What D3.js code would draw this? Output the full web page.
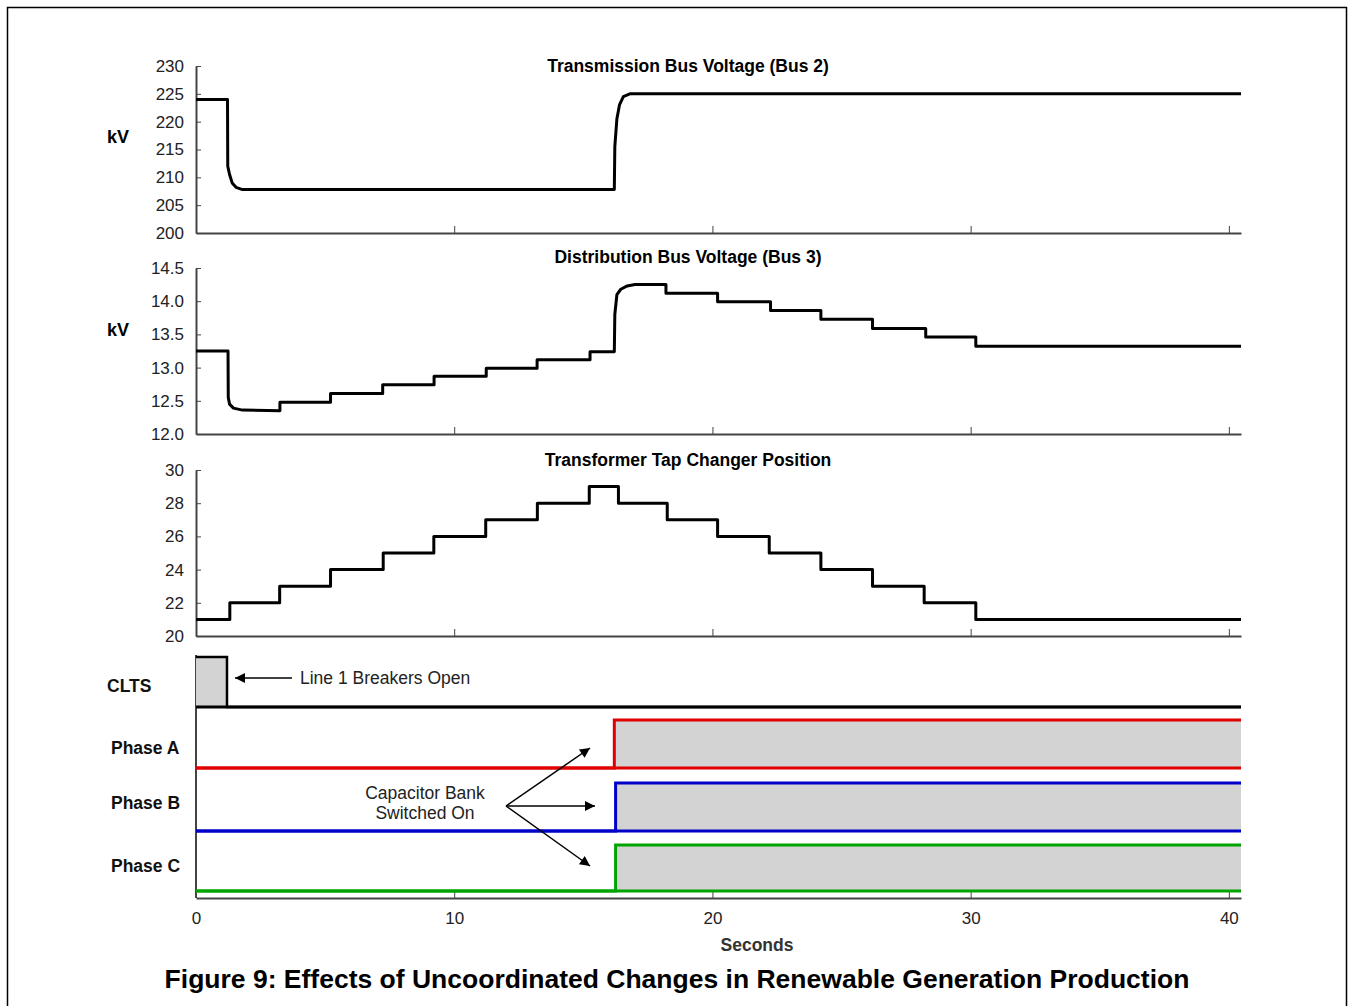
<!DOCTYPE html>
<html>
<head>
<meta charset="utf-8">
<script src="https://cdn.jsdelivr.net/npm/d3@7"></script>
<style>
  body { margin: 0; background: #fff; }
  svg { display: block; font-family: "Liberation Sans", Arial, sans-serif; }
  .tick text { font-size: 17px; fill: #222; }
  .axis path, .axis line { stroke: #444; }
</style>
</head>
<body>
<script>
// Panel 1: transmission bus voltage (kV)
var transT  = [0, 1.22, 1.23, 1.3, 1.4, 1.55, 1.8, 16.2, 16.22, 16.3, 16.4, 16.55, 16.8, 40.47];
var transKV = [224, 224, 212, 210.5, 209, 208.2, 207.8, 207.8, 215.5, 220.5, 223, 224.5, 225, 225];

// Panel 2: distribution bus voltage (kV)
var distT  = [0, 1.24, 1.25, 1.3, 1.45, 1.8, 3.25, 3.25, 5.21, 5.21, 7.23, 7.23, 9.22, 9.22,
              11.24, 11.24, 13.21, 13.21, 15.26, 15.26, 16.2, 16.22, 16.3, 16.45, 16.7, 17.0,
              18.2, 18.2, 20.2, 20.2, 22.25, 22.25, 24.2, 24.2, 26.2, 26.2, 28.26, 28.26, 30.2, 30.2, 40.47];
var distKV = [13.25, 13.25, 12.55, 12.45, 12.39, 12.36, 12.35, 12.48, 12.48, 12.61, 12.61, 12.74, 12.74, 12.87,
              12.87, 12.99, 12.99, 13.12, 13.12, 13.24, 13.24, 13.8, 14.1, 14.18, 14.23, 14.25,
              14.25, 14.12, 14.12, 13.99, 13.99, 13.86, 13.86, 13.73, 13.73, 13.59, 13.59, 13.46, 13.46, 13.32, 13.32];

// Panel 3: tap changer position (step after each time)
var tapT   = [0, 1.31, 3.24, 5.21, 7.25, 9.21, 11.22, 13.22, 15.23, 16.36, 18.25, 20.2, 22.2, 24.2, 26.2, 28.2, 30.2, 40.47];
var tapPos = [21, 22, 23, 24, 25, 26, 27, 28, 29, 28, 27, 26, 25, 24, 23, 22, 21, 21];

// Panel 4: digital signals
var cltsT  = [0, 1.2, 40.47];
var cltsOn = [1, 0, 0];
var phaseNames   = ["Phase A", "Phase B", "Phase C"];
var phaseColors  = ["#e00000", "#0000c8", "#00a400"];
var phaseSwitchT = [16.2, 16.25, 16.25];

var ticks1 = [200, 205, 210, 215, 220, 225, 230];
var ticks2 = [12.0, 12.5, 13.0, 13.5, 14.0, 14.5];
var ticks3 = [20, 22, 24, 26, 28, 30];
var xTicks = [0, 10, 20, 30, 40];
var tEnd = 40.47;

var width = 1348, height = 1006;
var svg = d3.select("body").append("svg")
  .attr("width", width)
  .attr("height", height);

// outer frame
svg.append("path")
  .attr("d", "M7.5,1010 V7.5 H1346.5 V1010")
  .attr("fill", "none")
  .attr("stroke", "#000")
  .attr("stroke-width", 1.5);

var x = d3.scaleLinear().domain([0, tEnd]).range([196, 1241]);

function panel(yDomain, yRange, ticks, fmt, title, titleY, unitY) {
  var y = d3.scaleLinear().domain(yDomain).range(yRange);
  svg.append("g")
    .attr("class", "axis")
    .attr("transform", "translate(196,0)")
    .call(d3.axisLeft(y).tickValues(ticks).tickFormat(fmt).tickSizeInner(-5).tickSizeOuter(0).tickPadding(12))
    .call(function(g) { g.select(".domain").attr("stroke-width", 2); });
  svg.append("g")
    .attr("class", "axis")
    .attr("transform", "translate(0," + yRange[0] + ")")
    .call(d3.axisBottom(x).tickValues(xTicks.slice(1)).tickFormat("").tickSizeInner(-7).tickSizeOuter(0))
    .call(function(g) { g.select(".domain").attr("stroke-width", 2); });
  svg.append("text")
    .attr("x", 688).attr("y", titleY)
    .attr("text-anchor", "middle")
    .attr("font-size", "17.5px").attr("font-weight", "bold")
    .text(title);
  if (unitY) {
    svg.append("text")
      .attr("x", 107).attr("y", unitY)
      .attr("font-size", "18px").attr("font-weight", "bold")
      .text("kV");
  }
  return y;
}

var y1 = panel([200, 230], [233, 66], ticks1, d3.format("d"), "Transmission Bus Voltage (Bus 2)", 72, 143);
var y2 = panel([12, 14.5], [434, 268], ticks2, d3.format(".1f"), "Distribution Bus Voltage (Bus 3)", 263, 336);
var y3 = panel([20, 30], [636, 470], ticks3, d3.format("d"), "Transformer Tap Changer Position", 466, null);

function drawLine(ts, vs, y, curve) {
  var line = d3.line()
    .x(function(d) { return x(d[0]); })
    .y(function(d) { return y(d[1]); })
    .curve(curve);
  svg.append("path")
    .datum(d3.zip(ts, vs))
    .attr("d", line)
    .attr("fill", "none")
    .attr("stroke", "#000")
    .attr("stroke-width", 3)
    .attr("stroke-linejoin", "round");
}
drawLine(transT, transKV, y1, d3.curveLinear);
drawLine(distT, distKV, y2, d3.curveLinear);
drawLine(tapT, tapPos, y3, d3.curveStepAfter);

// digital panel
var bandLow  = [707, 768, 831, 891];
var bandHigh = [657, 720, 783, 845];
var labelY   = [692, 754, 809, 872];

// left axis and bottom axis
svg.append("line")
  .attr("x1", 196).attr("x2", 196).attr("y1", 655).attr("y2", 898)
  .attr("stroke", "#444").attr("stroke-width", 2);
svg.append("g")
  .attr("class", "axis")
  .attr("transform", "translate(0,898)")
  .call(d3.axisBottom(x).tickValues(xTicks).tickFormat(d3.format("d")).tickSizeInner(-7).tickSizeOuter(0).tickPadding(14))
  .call(function(g) {
    g.select(".domain").attr("stroke-width", 2).attr("stroke", "#666");
    g.selectAll(".tick text").attr("font-size", "16px");
  });

// CLTS
var yc = d3.scaleLinear().domain([0, 1]).range([bandLow[0], bandHigh[0]]);
var cltsData = d3.zip(cltsT, cltsOn);
svg.append("path")
  .datum(cltsData)
  .attr("d", d3.area().x(function(d) { return x(d[0]); }).y0(yc(0)).y1(function(d) { return yc(d[1]); }).curve(d3.curveStepAfter))
  .attr("fill", "#d3d3d3");
svg.append("path")
  .datum(cltsData)
  .attr("d", d3.line().x(function(d) { return x(d[0]); }).y(function(d) { return yc(d[1]); }).curve(d3.curveStepAfter))
  .attr("fill", "none").attr("stroke", "#000").attr("stroke-width", 2.5);
svg.append("line")
  .attr("x1", x(0)).attr("x2", x(tEnd)).attr("y1", yc(0)).attr("y2", yc(0))
  .attr("stroke", "#000").attr("stroke-width", 3);

// phases
phaseNames.forEach(function(name, i) {
  var yp = d3.scaleLinear().domain([0, 1]).range([bandLow[i + 1], bandHigh[i + 1]]);
  var data = [[0, 0], [phaseSwitchT[i], 1], [tEnd, 1]];
  svg.append("path")
    .datum(data.slice(1))
    .attr("d", d3.area().x(function(d) { return x(d[0]); }).y0(yp(0)).y1(function(d) { return yp(d[1]); }))
    .attr("fill", "#d3d3d3");
  svg.append("line")
    .attr("x1", x(0)).attr("x2", x(tEnd)).attr("y1", yp(0)).attr("y2", yp(0))
    .attr("stroke", phaseColors[i]).attr("stroke-width", 3);
  svg.append("path")
    .datum(data)
    .attr("d", d3.line().x(function(d) { return x(d[0]); }).y(function(d) { return yp(d[1]); }).curve(d3.curveStepAfter))
    .attr("fill", "none").attr("stroke", phaseColors[i]).attr("stroke-width", 3);
  svg.append("text")
    .attr("x", 111).attr("y", labelY[i + 1])
    .attr("font-size", "17.5px").attr("font-weight", "bold").attr("fill", "#111")
    .text(name);
});

svg.append("text")
  .attr("x", 107).attr("y", labelY[0])
  .attr("font-size", "17.5px").attr("font-weight", "bold").attr("fill", "#111")
  .text("CLTS");

// annotations
var defs = svg.append("defs");
defs.append("marker")
  .attr("id", "arrow")
  .attr("viewBox", "0 0 10 10")
  .attr("refX", 10).attr("refY", 5)
  .attr("markerWidth", 12).attr("markerHeight", 10)
  .attr("markerUnits", "userSpaceOnUse")
  .attr("orient", "auto")
  .append("path").attr("d", "M0,0 L10,5 L0,10 Z").attr("fill", "#000");

svg.append("line")
  .attr("x1", 292).attr("y1", 678).attr("x2", 235).attr("y2", 678)
  .attr("stroke", "#000").attr("stroke-width", 1.5).attr("marker-end", "url(#arrow)");
svg.append("text")
  .attr("x", 300).attr("y", 684)
  .attr("font-size", "17.5px").attr("fill", "#222")
  .text("Line 1 Breakers Open");

svg.append("text")
  .attr("x", 425).attr("y", 799)
  .attr("text-anchor", "middle").attr("font-size", "17.5px").attr("fill", "#222")
  .text("Capacitor Bank");
svg.append("text")
  .attr("x", 425).attr("y", 819)
  .attr("text-anchor", "middle").attr("font-size", "17.5px").attr("fill", "#222")
  .text("Switched On");

[[590, 748], [595, 806], [590, 866]].forEach(function(p) {
  svg.append("line")
    .attr("x1", 506).attr("y1", 806).attr("x2", p[0]).attr("y2", p[1])
    .attr("stroke", "#000").attr("stroke-width", 1.5).attr("marker-end", "url(#arrow)");
});

// x label and caption
svg.append("text")
  .attr("x", 757).attr("y", 951)
  .attr("text-anchor", "middle").attr("font-size", "17.5px").attr("font-weight", "bold").attr("fill", "#333")
  .text("Seconds");
svg.append("text")
  .attr("x", 677).attr("y", 988)
  .attr("text-anchor", "middle").attr("font-size", "26.5px").attr("font-weight", "bold")
  .text("Figure 9: Effects of Uncoordinated Changes in Renewable Generation Production");
</script>
</body>
</html>
